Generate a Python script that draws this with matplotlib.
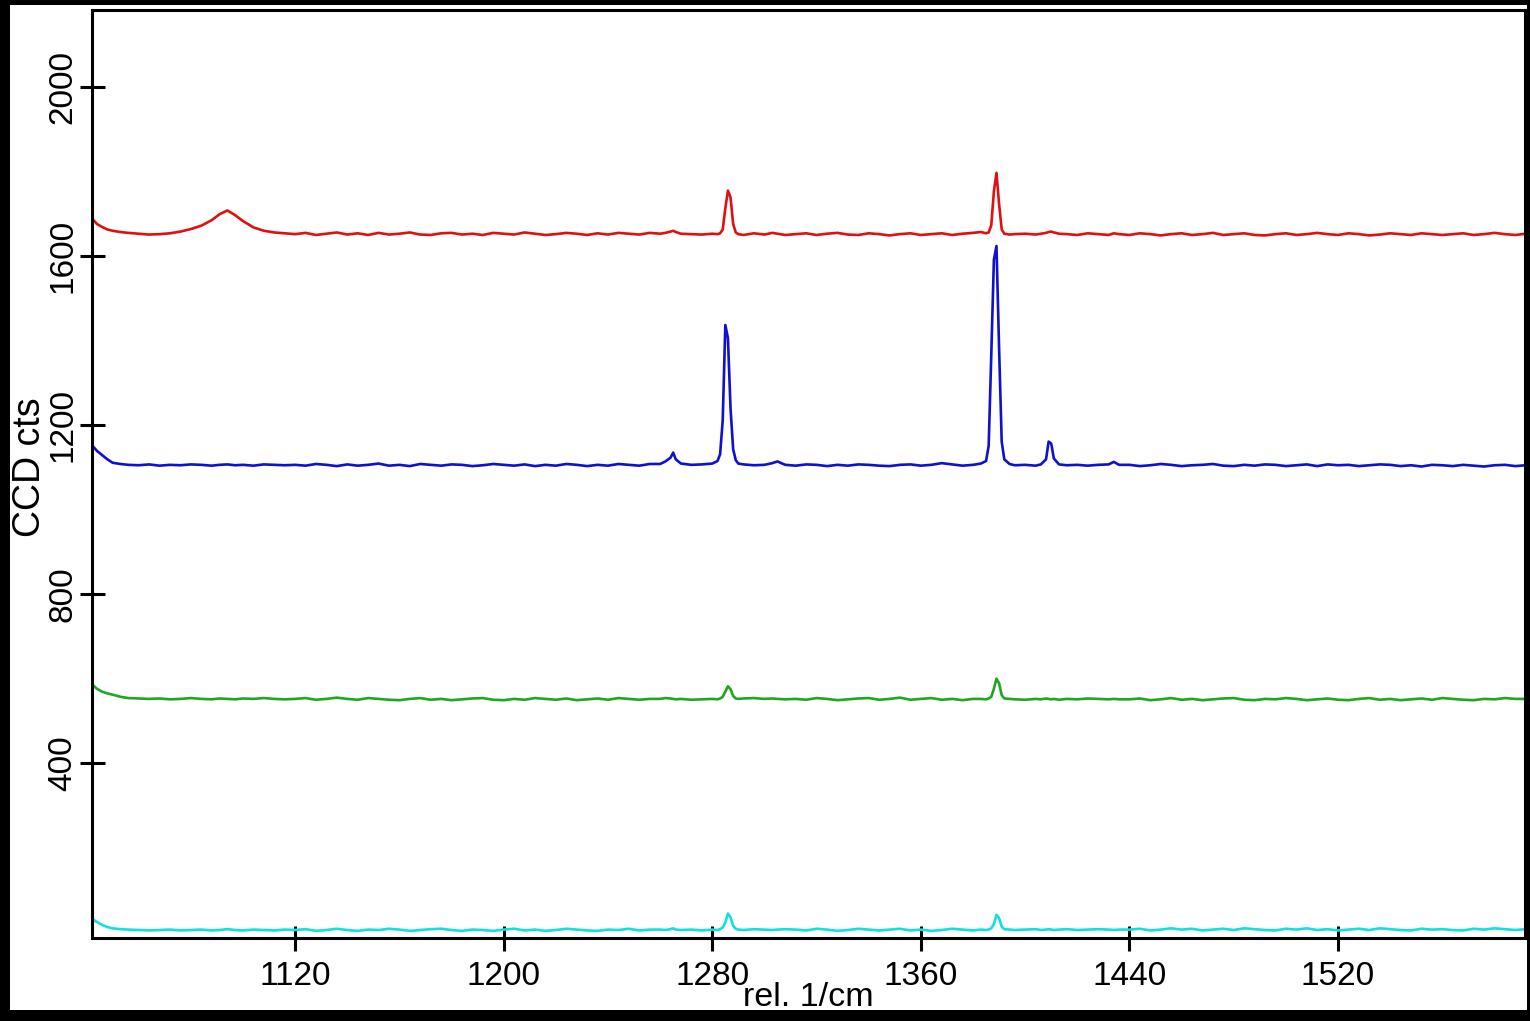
import matplotlib
matplotlib.use("Agg")
import matplotlib.pyplot as plt
from matplotlib.patches import Rectangle

plt.rcParams['font.family'] = ['Liberation Sans', 'DejaVu Sans']

# Raman shift (rel. 1/cm), shared by all four spectra
wavenumber = [
    1042, 1044, 1046, 1048, 1050, 1053, 1056, 1060, 1064, 1068, 1072, 1076, 1080, 1084, 1088, 1091, 1094, 1097, 1100, 1104, 1108, 1112, 1116,
    1120, 1124, 1128, 1132, 1136, 1140, 1144, 1148, 1152, 1156, 1160, 1164, 1168, 1172, 1176, 1180, 1184, 1188, 1192, 1196,
    1200, 1204, 1208, 1212, 1216, 1220, 1224, 1228, 1232, 1236, 1240, 1244, 1248, 1252, 1256,
    1260, 1262, 1264, 1265, 1266, 1268, 1272, 1276, 1280, 1282, 1283, 1284, 1285, 1286, 1287, 1288, 1289, 1290, 1292, 1296, 1300, 1303, 1305, 1308,
    1312, 1316, 1320, 1324, 1328, 1332, 1336, 1340, 1344, 1348, 1352, 1356, 1360, 1364, 1368, 1372, 1376, 1380,
    1383, 1385, 1386, 1387, 1388, 1389, 1390, 1391, 1392, 1394, 1396, 1400, 1404, 1406, 1408, 1409, 1410, 1411, 1413, 1416, 1420, 1424, 1428, 1432, 1434, 1436,
    1440, 1444, 1448, 1452, 1456, 1460, 1464, 1468, 1472, 1476, 1480, 1484, 1488, 1492, 1496, 1500, 1504, 1508, 1512, 1516,
    1520, 1524, 1528, 1532, 1536, 1540, 1544, 1548, 1552, 1556, 1560, 1564, 1568, 1572, 1576, 1580, 1584, 1588, 1592,
]

red_counts = [
    1689, 1675, 1668, 1662, 1659, 1656, 1654, 1652, 1650, 1651, 1653, 1657, 1663, 1671, 1684, 1698, 1707, 1696, 1682, 1667, 1659, 1655, 1653,
    1651, 1654, 1649, 1652, 1655, 1650, 1653, 1649, 1654, 1650, 1652, 1655, 1650, 1649, 1653, 1654, 1650, 1652, 1649, 1654,
    1652, 1650, 1655, 1652, 1649, 1651, 1654, 1652, 1649, 1653, 1650, 1654, 1652, 1650, 1654,
    1652, 1654, 1657, 1659, 1656, 1652, 1651, 1650, 1652, 1651, 1653, 1662, 1712, 1754, 1738, 1675, 1655, 1651, 1649, 1653, 1650, 1654, 1652, 1649,
    1651, 1653, 1649, 1652, 1654, 1650, 1649, 1653, 1651, 1648, 1651, 1653, 1649, 1651, 1653, 1649, 1652, 1654,
    1656, 1653, 1655, 1672, 1752, 1796, 1722, 1662, 1652, 1650, 1651, 1652, 1650, 1652, 1654, 1656, 1657, 1655, 1652, 1651, 1649, 1653, 1651, 1649, 1653, 1651,
    1649, 1653, 1651, 1648, 1651, 1653, 1649, 1651, 1654, 1649, 1651, 1653, 1649, 1648, 1651, 1653, 1649, 1651, 1654, 1651,
    1649, 1653, 1651, 1648, 1650, 1653, 1651, 1649, 1653, 1651, 1649, 1651, 1653, 1649, 1651, 1654, 1651, 1649, 1652,
]

blue_counts = [
    1152, 1138, 1128, 1118, 1110, 1107, 1105, 1104, 1106, 1103, 1105, 1104, 1106, 1105, 1103, 1105, 1106, 1104, 1105, 1103, 1106, 1105, 1104,
    1105, 1103, 1107, 1105, 1102, 1106, 1103, 1105, 1108, 1103, 1105, 1102, 1107, 1105, 1103, 1106, 1105, 1102, 1104, 1107,
    1105, 1103, 1106, 1102, 1105, 1103, 1107, 1105, 1102, 1105, 1103, 1107, 1105, 1103, 1107,
    1107, 1113, 1122, 1134, 1118, 1108, 1105, 1106, 1108, 1114, 1130, 1210, 1436, 1405, 1238, 1142, 1116, 1108, 1106, 1104, 1105, 1109, 1113, 1105,
    1103, 1106, 1105, 1102, 1105, 1103, 1106, 1105, 1103, 1102, 1105, 1106, 1103, 1105, 1109, 1106, 1103, 1105,
    1108, 1114, 1150, 1365, 1590, 1623, 1380, 1160, 1118, 1107, 1104, 1105, 1103, 1106, 1118, 1160, 1155, 1120, 1106, 1104, 1105, 1103, 1105, 1106, 1112, 1105,
    1105, 1102, 1104, 1107, 1105, 1102, 1104, 1105, 1107, 1103, 1102, 1105, 1103, 1106, 1105, 1102, 1104, 1106, 1102, 1106,
    1104, 1105, 1102, 1104, 1106, 1105, 1102, 1104, 1101, 1105, 1104, 1102, 1105, 1103, 1101, 1104, 1105, 1102, 1104,
]

green_counts = [
    586, 575, 568, 564, 561, 556, 553, 552, 551, 552, 550, 551, 553, 551, 550, 552, 551, 550, 552, 551, 553, 551, 550,
    551, 553, 549, 551, 554, 551, 549, 553, 551, 549, 548, 551, 553, 549, 551, 548, 550, 552, 553, 549,
    548, 551, 549, 553, 551, 549, 552, 548, 550, 552, 549, 553, 551, 549, 551,
    551, 553, 552, 551, 550, 551, 549, 550, 551, 550, 552, 556, 568, 581, 574, 558, 552, 551, 552, 553, 551, 552, 551, 550,
    551, 549, 553, 551, 548, 550, 552, 553, 549, 551, 554, 549, 551, 553, 549, 551, 548, 551,
    551, 550, 552, 556, 575, 599, 588, 560, 552, 551, 550, 549, 551, 550, 552, 551, 550, 551, 549, 551, 550, 552, 551, 550, 551, 550,
    550, 552, 548, 550, 553, 549, 551, 548, 550, 552, 553, 549, 548, 551, 550, 553, 551, 548, 550, 552,
    549, 548, 551, 553, 549, 551, 548, 550, 552, 549, 553, 551, 549, 548, 551, 550, 553, 551, 551,
]

cyan_counts = [
    31, 23, 16, 11, 8, 6, 5, 4, 3, 4, 5, 3, 4, 5, 3, 4, 6, 4, 3, 5, 4, 3, 5,
    4, 6, 2, 4, 7, 4, 2, 5, 4, 7, 5, 2, 4, 6, 7, 4, 2, 5, 4, 2,
    5, 7, 3, 5, 2, 4, 7, 5, 3, 2, 5, 4, 7, 3, 5,
    5, 4, 6, 8, 5, 4, 5, 3, 5, 4, 6, 10, 22, 43, 34, 14, 7, 5, 4, 6, 5, 4, 5, 6,
    5, 3, 7, 5, 2, 4, 7, 5, 3, 5, 7, 3, 5, 2, 4, 7, 5, 3,
    5, 4, 5, 8, 18, 40, 32, 12, 6, 5, 4, 5, 6, 4, 5, 6, 5, 4, 5, 6, 4, 5, 6, 5, 4, 5,
    5, 7, 3, 5, 8, 5, 7, 3, 5, 7, 4, 8, 6, 4, 3, 7, 5, 8, 4, 6,
    3, 5, 7, 4, 8, 6, 4, 3, 7, 5, 6, 4, 3, 7, 5, 8, 6, 4, 6,
]

series = [
    (red_counts, '#e01010'),
    (blue_counts, '#1010d0'),
    (green_counts, '#1fa81f'),
    (cyan_counts, '#10e0e0'),
]

x_ticks = [1120, 1200, 1280, 1360, 1440, 1520]
y_ticks = [400, 800, 1200, 1600, 2000]

fig = plt.figure(figsize=(15.3, 10.21), dpi=100, facecolor='black')
fig.patches.append(Rectangle((10 / 1530, 11 / 1021), 1517 / 1530, 1005 / 1021,
                             transform=fig.transFigure, facecolor='white',
                             edgecolor='none', zorder=-10))

ax = fig.add_axes([92 / 1530, (1021 - 938.3) / 1021, (1525 - 92) / 1530, (938.3 - 10) / 1021])
ax.set_facecolor('white')

for counts, color in series:
    ax.plot(wavenumber, counts, color=color, lw=1.9)

ax.set_xlim(1042.1, 1591.7)
ax.set_ylim(-15.6, 2181.5)
ax.set_xticks(x_ticks)
ax.set_yticks(y_ticks)
ax.set_xticklabels([str(v) for v in x_ticks])
ax.set_yticklabels([str(v) for v in y_ticks])

for sp in ax.spines.values():
    sp.set_linewidth(2.2)
    sp.set_color('black')

ax.tick_params(axis='both', direction='inout', length=18, width=2.2,
               labelsize=24, colors='black')
ax.tick_params(axis='x', pad=7)
ax.tick_params(axis='y', pad=1, labelrotation=90)
for lab in ax.get_yticklabels():
    lab.set_va('center')

ax.set_xlabel('rel. 1/cm', fontsize=24.5)
ax.xaxis.label.set_va('baseline')
ax.xaxis.set_label_coords(0.5, (938.3 - 1006) / (938.3 - 10))

ax.set_ylabel('CCD cts', fontsize=27)
ax.yaxis.label.set_va('center')
ax.yaxis.set_label_coords((30 - 92) / (1525 - 92), (938.3 - 467) / (938.3 - 10))

fig.savefig('out.png', dpi=100, facecolor='black')
